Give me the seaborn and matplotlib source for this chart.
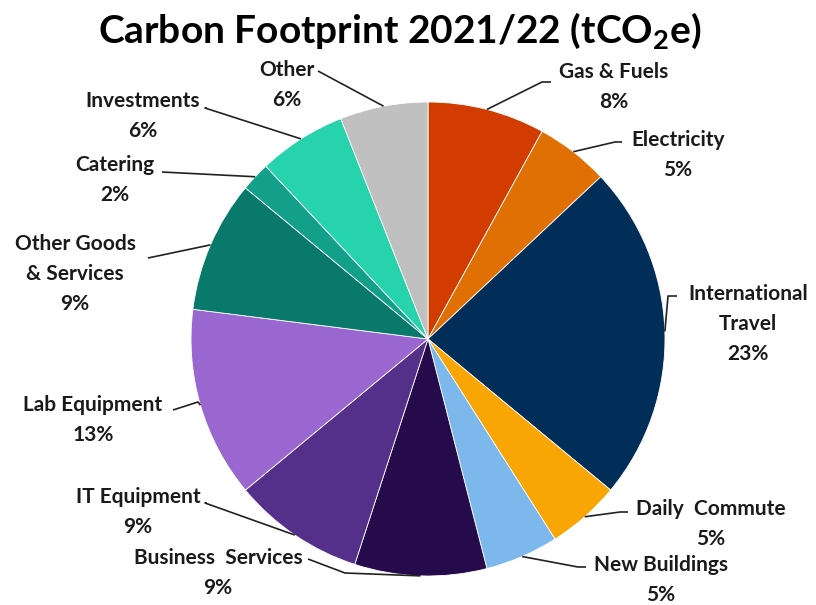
import numpy as np
import matplotlib
matplotlib.use("Agg")
import matplotlib.pyplot as plt
import seaborn as sns

# Emission categories, clockwise from 12 o'clock
categories = ["Gas & Fuels", "Electricity", "International\nTravel", "Daily  Commute",
              "New Buildings", "Business  Services", "IT Equipment", "Lab Equipment",
              "Other Goods\n& Services", "Catering", "Investments", "Other"]
shares = [8, 5, 23, 5, 5, 9, 9, 13, 9, 2, 6, 6]
colors = ["#D23C00", "#E07004", "#002E58", "#F9A503", "#7DB8EC", "#250B4B",
          "#55308A", "#9A66CF", "#08796A", "#13A08A", "#27D3AC", "#C0C0C0"]

sns.set_theme(style="white")
plt.rcParams["font.family"] = ["Lato", "DejaVu Sans"]
plt.rcParams["mathtext.fontset"] = "custom"
plt.rcParams["mathtext.rm"] = "Lato:bold"
plt.rcParams["mathtext.it"] = "Lato:bold"
plt.rcParams["mathtext.default"] = "rm"

W, H = 816, 605
fig = plt.figure(figsize=(W / 100, H / 100), dpi=100)
ax = fig.add_axes([0, 0, 1, 1])

cx, cy, r = 428, H - 339, 237
wedges, _ = ax.pie(shares, colors=colors, startangle=90, counterclock=False,
                   center=(cx, cy), radius=r, frame=True,
                   wedgeprops=dict(edgecolor="white", linewidth=0.6))
ax.set_xlim(0, W)
ax.set_ylim(0, H)
ax.set_aspect("equal")
ax.axis("off")

# label block centre (px from top-left), elbow point, line end next to the text
layout = [
    ((614, 87), (542, 82), (551, 82)),
    ((678, 155), (615, 142), (622, 142)),
    ((748, 324), (668, 296), (677, 296)),
    ((711, 524), (620, 512), (628, 512)),
    ((661, 580), (578, 567), (586, 567)),
    ((218, 573), (345, 573), (308, 559)),
    ((138, 512), (205, 503), (207, 503)),
    ((93, 420), (198, 402), (173, 410)),
    ((75, 274), (148, 258), (148, 258)),
    ((115, 180), (162, 172), (162, 172)),
    ((143, 116), (205, 108), (207, 108)),
    ((287, 85), (318, 71), (318, 71)),
]

total = sum(shares)
for w, name, val, (tc, elbow, tip) in zip(wedges, categories, shares, layout):
    ang = np.deg2rad((w.theta1 + w.theta2) / 2)
    ex, ey = cx + r * np.cos(ang), cy + r * np.sin(ang)
    xs = [ex, elbow[0], tip[0]]
    ys = [ey, H - elbow[1], H - tip[1]]
    ax.plot(xs, ys, color="#222222", lw=1.2, solid_capstyle="butt")
    ax.text(tc[0], H - tc[1], f"{name}\n{val / total * 100:.0f}%", ha="center",
            va="center", fontsize=15, fontweight="bold", color="#1a1a1a",
            linespacing=1.6)

ax.text(400, H - 31, r"Carbon Footprint 2021/22 (tCO$_2$e)", ha="center",
        va="center", fontsize=28, fontweight="bold", color="black")

fig.savefig("out.png", dpi=100)
